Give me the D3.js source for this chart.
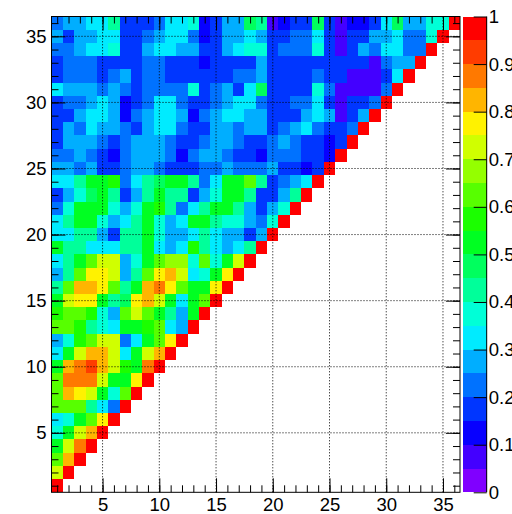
<!DOCTYPE html>
<html lang="en">
<head>
  <meta charset="UTF-8">
  <script src="https://d3js.org/d3.v7.min.js"></script>
  <title>correlation matrix</title>
  <style>
    body { margin: 0; background: #fff; }
    text { font-family: "Liberation Sans", Arial, sans-serif; fill: #000; }
  </style>
</head>
<body>
<script>
  // bins on both axes: 1..36
  const nBins = 36
  const axisTicks = [5, 10, 15, 20, 25, 30, 35]
  const zTicks = [0, 0.1, 0.2, 0.3, 0.4, 0.5, 0.6, 0.7, 0.8, 0.9, 1]
  const zTickLabels = ['0', '0.1', '0.2', '0.3', '0.4', '0.5', '0.6', '0.7', '0.8', '0.9', '1']

  // corr[r-1] = values of row r for columns 1..r-1 (the diagonal is 1)
  const corr = [
    [],
    [0.74],
    [0.64, 0.82],
    [0.52, 0.70, 0.87],
    [0.37, 0.52, 0.70, 0.82],
    [0.32, 0.37, 0.52, 0.62, 0.77],
    [0.62, 0.62, 0.60, 0.42, 0.32, 0.22],
    [0.62, 0.82, 0.77, 0.70, 0.52, 0.37, 0.64],
    [0.64, 0.85, 0.87, 0.85, 0.72, 0.52, 0.50, 0.77],
    [0.52, 0.82, 0.87, 0.92, 0.82, 0.70, 0.55, 0.50, 0.85],
    [0.32, 0.52, 0.72, 0.82, 0.82, 0.70, 0.32, 0.52, 0.72, 0.82],
    [0.27, 0.37, 0.55, 0.64, 0.72, 0.72, 0.22, 0.32, 0.52, 0.64, 0.77],
    [0.62, 0.62, 0.55, 0.42, 0.37, 0.32, 0.52, 0.52, 0.55, 0.64, 0.32, 0.27],
    [0.57, 0.64, 0.64, 0.55, 0.37, 0.27, 0.64, 0.70, 0.62, 0.52, 0.42, 0.27, 0.52],
    [0.52, 0.70, 0.77, 0.77, 0.52, 0.42, 0.47, 0.77, 0.82, 0.74, 0.52, 0.32, 0.52, 0.62],
    [0.42, 0.62, 0.82, 0.82, 0.77, 0.62, 0.42, 0.52, 0.82, 0.87, 0.77, 0.64, 0.52, 0.52, 0.77],
    [0.27, 0.42, 0.62, 0.77, 0.77, 0.70, 0.27, 0.42, 0.62, 0.77, 0.82, 0.74, 0.32, 0.37, 0.52, 0.77],
    [0.32, 0.42, 0.52, 0.62, 0.70, 0.74, 0.27, 0.37, 0.52, 0.62, 0.67, 0.67, 0.37, 0.62, 0.37, 0.52, 0.70],
    [0.52, 0.42, 0.42, 0.32, 0.32, 0.32, 0.42, 0.42, 0.52, 0.32, 0.27, 0.32, 0.57, 0.42, 0.32, 0.27, 0.32, 0.42],
    [0.32, 0.32, 0.42, 0.42, 0.27, 0.17, 0.42, 0.42, 0.52, 0.37, 0.27, 0.27, 0.32, 0.42, 0.32, 0.27, 0.27, 0.17, 0.27],
    [0.32, 0.42, 0.52, 0.52, 0.37, 0.27, 0.32, 0.42, 0.52, 0.37, 0.27, 0.32, 0.52, 0.52, 0.42, 0.37, 0.37, 0.27, 0.22, 0.37],
    [0.22, 0.37, 0.52, 0.50, 0.52, 0.37, 0.27, 0.37, 0.52, 0.55, 0.42, 0.22, 0.32, 0.42, 0.52, 0.52, 0.42, 0.27, 0.17, 0.27, 0.37],
    [0.17, 0.27, 0.37, 0.47, 0.52, 0.42, 0.17, 0.27, 0.42, 0.52, 0.42, 0.42, 0.17, 0.27, 0.37, 0.52, 0.52, 0.42, 0.17, 0.17, 0.27, 0.42],
    [0.32, 0.32, 0.42, 0.52, 0.52, 0.57, 0.22, 0.32, 0.42, 0.47, 0.52, 0.52, 0.42, 0.22, 0.32, 0.50, 0.52, 0.62, 0.42, 0.17, 0.22, 0.27, 0.32],
    [0.27, 0.27, 0.22, 0.27, 0.17, 0.17, 0.22, 0.27, 0.27, 0.22, 0.17, 0.17, 0.17, 0.22, 0.22, 0.27, 0.22, 0.22, 0.22, 0.27, 0.17, 0.17, 0.12, 0.17],
    [0.22, 0.22, 0.27, 0.22, 0.17, 0.12, 0.22, 0.27, 0.27, 0.27, 0.22, 0.12, 0.22, 0.27, 0.27, 0.22, 0.17, 0.17, 0.12, 0.22, 0.22, 0.22, 0.17, 0.17, 0.12],
    [0.17, 0.27, 0.27, 0.27, 0.22, 0.17, 0.22, 0.27, 0.27, 0.27, 0.22, 0.17, 0.17, 0.22, 0.27, 0.27, 0.22, 0.17, 0.17, 0.22, 0.27, 0.22, 0.17, 0.17, 0.12, 0.17],
    [0.17, 0.27, 0.22, 0.32, 0.27, 0.27, 0.22, 0.17, 0.27, 0.32, 0.32, 0.22, 0.17, 0.17, 0.27, 0.27, 0.22, 0.27, 0.27, 0.17, 0.22, 0.27, 0.32, 0.22, 0.17, 0.17, 0.22],
    [0.17, 0.17, 0.27, 0.32, 0.32, 0.27, 0.12, 0.22, 0.27, 0.32, 0.32, 0.27, 0.12, 0.22, 0.27, 0.32, 0.32, 0.27, 0.27, 0.17, 0.17, 0.17, 0.27, 0.32, 0.27, 0.08, 0.17, 0.27],
    [0.17, 0.22, 0.22, 0.27, 0.32, 0.27, 0.12, 0.17, 0.22, 0.32, 0.32, 0.22, 0.17, 0.17, 0.22, 0.27, 0.32, 0.32, 0.22, 0.17, 0.17, 0.22, 0.22, 0.32, 0.17, 0.08, 0.17, 0.17, 0.22],
    [0.32, 0.27, 0.27, 0.27, 0.22, 0.27, 0.22, 0.17, 0.22, 0.22, 0.22, 0.22, 0.37, 0.17, 0.22, 0.27, 0.17, 0.32, 0.47, 0.17, 0.17, 0.17, 0.17, 0.37, 0.22, 0.08, 0.08, 0.08, 0.08, 0.22],
    [0.17, 0.22, 0.22, 0.22, 0.17, 0.22, 0.27, 0.17, 0.22, 0.22, 0.17, 0.17, 0.17, 0.17, 0.17, 0.17, 0.22, 0.22, 0.27, 0.17, 0.17, 0.17, 0.17, 0.22, 0.17, 0.17, 0.08, 0.08, 0.08, 0.17, 0.32],
    [0.17, 0.22, 0.22, 0.22, 0.17, 0.17, 0.17, 0.17, 0.22, 0.22, 0.17, 0.17, 0.17, 0.12, 0.17, 0.17, 0.17, 0.17, 0.27, 0.17, 0.17, 0.17, 0.17, 0.17, 0.17, 0.17, 0.17, 0.17, 0.08, 0.22, 0.27, 0.27],
    [0.22, 0.22, 0.27, 0.32, 0.32, 0.37, 0.17, 0.17, 0.27, 0.32, 0.32, 0.27, 0.27, 0.17, 0.17, 0.27, 0.32, 0.37, 0.37, 0.17, 0.22, 0.22, 0.22, 0.37, 0.17, 0.08, 0.17, 0.27, 0.22, 0.32, 0.32, 0.22, 0.22],
    [0.27, 0.17, 0.27, 0.27, 0.32, 0.32, 0.17, 0.17, 0.22, 0.27, 0.32, 0.32, 0.22, 0.12, 0.17, 0.27, 0.27, 0.32, 0.27, 0.17, 0.17, 0.22, 0.22, 0.32, 0.17, 0.08, 0.17, 0.17, 0.27, 0.27, 0.32, 0.22, 0.22, 0.37],
    [0.22, 0.27, 0.27, 0.32, 0.32, 0.42, 0.17, 0.17, 0.17, 0.22, 0.32, 0.32, 0.37, 0.12, 0.17, 0.27, 0.27, 0.47, 0.42, 0.08, 0.12, 0.17, 0.17, 0.47, 0.17, 0.08, 0.12, 0.12, 0.17, 0.32, 0.47, 0.27, 0.27, 0.37, 0.37]
  ]

  let width = 512
  let height = 514

  let svg = d3.select('body')
    .append('svg')
    .attr('width', width)
    .attr('height', height)

  let x = d3.scaleLinear().domain([0.5, nBins + 0.5]).range([51.5, 460])
  let y = d3.scaleLinear().domain([0.5, nBins + 0.5]).range([492.3, 16.5])
  let z = d3.scaleLinear().domain([0, 1]).range([492.3, 16.5])

  // 20 contour levels, hue from violet down to red
  let nContours = 20
  let palette = d3.range(nContours).map(k => d3.hsl(270 - k * 270 / (nContours - 1), 1, 0.5).formatHex())
  let color = d3.scaleQuantize().domain([0, 1]).range(palette)

  let cells = []
  corr.forEach((row, i) => {
    let r = i + 1
    row.forEach((v, j) => cells.push({ cx: j + 1, cy: r, v: v }))
    cells.push({ cx: r, cy: r, v: 1 })
  })

  svg.append('g')
    .selectAll('rect')
    .data(cells)
    .enter()
    .append('rect')
    .attr('x', d => x(d.cx - 0.5))
    .attr('y', d => y(d.cy + 0.5))
    .attr('width', d => x(d.cx + 0.5) - x(d.cx - 0.5))
    .attr('height', d => y(d.cy - 0.5) - y(d.cy + 0.5))
    .attr('fill', d => color(Math.min(d.v, 0.999)))
    .attr('shape-rendering', 'crispEdges')

  // dotted grid
  let grid = svg.append('g')
    .attr('stroke', '#000')
    .attr('stroke-width', 1)
    .attr('stroke-dasharray', '1,2')
  grid.selectAll('.gx')
    .data(axisTicks)
    .enter()
    .append('line')
    .attr('x1', d => x(d)).attr('x2', d => x(d))
    .attr('y1', y(0.5)).attr('y2', y(nBins + 0.5))
  grid.selectAll('.gy')
    .data(axisTicks)
    .enter()
    .append('line')
    .attr('y1', d => y(d)).attr('y2', d => y(d))
    .attr('x1', x(0.5)).attr('x2', x(nBins + 0.5))

  let minor = d3.range(1, nBins + 1)
  function styleAxis (g) {
    g.select('.domain').remove()
    g.selectAll('line').attr('stroke', '#000')
    g.selectAll('text').style('font-size', '18.5px').attr('fill', '#000')
  }

  // bottom
  svg.append('g').attr('transform', `translate(0,${y(0.5)})`)
    .call(d3.axisBottom(x).tickValues(minor).tickSize(-7).tickFormat('')).call(styleAxis)
  svg.append('g').attr('transform', `translate(0,${y(0.5)})`)
    .call(d3.axisBottom(x).tickValues(axisTicks).tickSize(-14).tickPadding(6)).call(styleAxis)
  // top
  svg.append('g').attr('transform', `translate(0,${y(nBins + 0.5)})`)
    .call(d3.axisTop(x).tickValues(minor).tickSize(-7).tickFormat('')).call(styleAxis)
  svg.append('g').attr('transform', `translate(0,${y(nBins + 0.5)})`)
    .call(d3.axisTop(x).tickValues(axisTicks).tickSize(-14).tickFormat('')).call(styleAxis)
  // left
  svg.append('g').attr('transform', `translate(${x(0.5)},0)`)
    .call(d3.axisLeft(y).tickValues(minor).tickSize(-7).tickFormat('')).call(styleAxis)
  svg.append('g').attr('transform', `translate(${x(0.5)},0)`)
    .call(d3.axisLeft(y).tickValues(axisTicks).tickSize(-14).tickPadding(5)).call(styleAxis)
  // right
  svg.append('g').attr('transform', `translate(${x(nBins + 0.5)},0)`)
    .call(d3.axisRight(y).tickValues(minor).tickSize(-7).tickFormat('')).call(styleAxis)
  svg.append('g').attr('transform', `translate(${x(nBins + 0.5)},0)`)
    .call(d3.axisRight(y).tickValues(axisTicks).tickSize(-14).tickFormat('')).call(styleAxis)

  // frame
  svg.append('rect')
    .attr('x', x(0.5)).attr('y', y(nBins + 0.5))
    .attr('width', x(nBins + 0.5) - x(0.5))
    .attr('height', y(0.5) - y(nBins + 0.5))
    .attr('fill', 'none').attr('stroke', '#000')

  // palette
  let barX = 462.7
  let barW = 24
  svg.append('g')
    .selectAll('rect')
    .data(palette)
    .enter()
    .append('rect')
    .attr('x', barX)
    .attr('y', (d, k) => z((k + 1) / nContours))
    .attr('width', barW)
    .attr('height', (d, k) => z(k / nContours) - z((k + 1) / nContours))
    .attr('fill', d => d)
    .attr('shape-rendering', 'crispEdges')
  svg.append('g').attr('transform', `translate(${barX + barW},0)`)
    .call(d3.axisRight(z).tickValues(zTicks).tickSize(-13).tickPadding(2)
      .tickFormat((d, i) => zTickLabels[i]))
    .call(g => {
      g.select('.domain').remove()
      g.selectAll('line').attr('stroke', '#000')
      g.selectAll('text').style('font-size', '18.5px').attr('fill', '#000')
    })
  svg.append('line')
    .attr('x1', barX + barW).attr('x2', barX + barW)
    .attr('y1', z(0)).attr('y2', z(1))
    .attr('stroke', '#000')
</script>
</body>
</html>
